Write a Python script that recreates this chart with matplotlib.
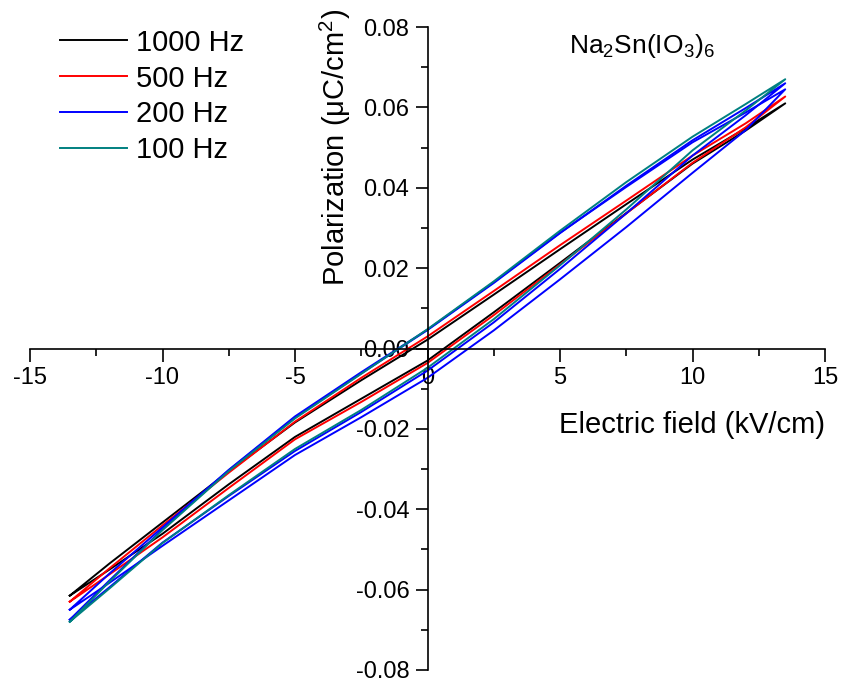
import matplotlib
matplotlib.use("Agg")
import matplotlib.pyplot as plt
from matplotlib.ticker import MultipleLocator, FormatStrFormatter

plt.rcParams["font.family"] = ["Liberation Sans", "DejaVu Sans"]
plt.rcParams["mathtext.fontset"] = "custom"
plt.rcParams["mathtext.rm"] = "Liberation Sans"
plt.rcParams["mathtext.it"] = "Liberation Sans:italic"
plt.rcParams["axes.unicode_minus"] = False

field = [-13.5, -12, -10, -7.5, -5, -2.5, 0, 2.5, 5, 7.5, 10, 12, 13.5]

# polarization (uC/cm^2): upper (descending) and lower (ascending) branch
p_1000_up = [-0.0615, -0.0535, -0.0433, -0.0306, -0.0184, -0.0079, 0.0022,
             0.0134, 0.0247, 0.0359, 0.0470, 0.0548, 0.0610]
p_1000_lo = [-0.0615, -0.0550, -0.0461, -0.0338, -0.0220, -0.0125, -0.0030,
             0.0090, 0.0213, 0.0337, 0.0460, 0.0542, 0.0610]
p_500_up = [-0.0630, -0.0547, -0.0440, -0.0309, -0.0182, -0.0073, 0.0030,
            0.0143, 0.0257, 0.0368, 0.0480, 0.0560, 0.0627]
p_500_lo = [-0.0630, -0.0562, -0.0470, -0.0347, -0.0226, -0.0133, -0.0036,
            0.0083, 0.0209, 0.0336, 0.0462, 0.0550, 0.0627]
p_200_up = [-0.0650, -0.0560, -0.0445, -0.0302, -0.0169, -0.0059, 0.0047,
            0.0165, 0.0288, 0.0402, 0.0513, 0.0587, 0.0645]
p_200_lo = [-0.0650, -0.0583, -0.0491, -0.0378, -0.0265, -0.0171, -0.0073,
            0.0045, 0.0172, 0.0302, 0.0437, 0.0543, 0.0645]
# second 200 Hz run, sits close to the 100 Hz loop
p_200b_up = [-0.0675, -0.0577, -0.0450, -0.0303, -0.0172, -0.0062, 0.0046,
             0.0163, 0.0287, 0.0405, 0.0518, 0.0598, 0.0660]
p_200b_lo = [-0.0675, -0.0594, -0.0483, -0.0367, -0.0255, -0.0158, -0.0055,
             0.0065, 0.0198, 0.0336, 0.0480, 0.0580, 0.0660]
p_100_up = [-0.0680, -0.0580, -0.0452, -0.0305, -0.0174, -0.0063, 0.0048,
            0.0167, 0.0293, 0.0414, 0.0527, 0.0608, 0.0670]
p_100_lo = [-0.0680, -0.0597, -0.0484, -0.0365, -0.0250, -0.0153, -0.0048,
            0.0073, 0.0207, 0.0346, 0.0493, 0.0592, 0.0670]

loops = [
    ("1000 Hz", "black", p_1000_up, p_1000_lo),
    ("500 Hz", "#ff0000", p_500_up, p_500_lo),
    ("200 Hz", "#0000ff", p_200_up, p_200_lo),
    (None, "#0000ff", p_200b_up, p_200b_lo),
    ("100 Hz", "#008080", p_100_up, p_100_lo),
]

fig = plt.figure(figsize=(8.42, 6.83), dpi=100)
ax = fig.add_axes([30 / 842, 13 / 683, 795 / 842, 643 / 683])

for label, color, up, lo in loops:
    # lower branch out to +Emax, then back along the upper one
    xs = list(field) + list(field[::-1])
    ys = list(lo) + list(up[::-1])
    ax.plot(xs, ys, color=color, lw=1.4, label=label)

ax.set_xlim(-15, 15)
ax.set_ylim(-0.08, 0.08)

ax.spines["left"].set_position(("data", 0))
ax.spines["bottom"].set_position(("data", 0))
ax.spines["top"].set_visible(False)
ax.spines["right"].set_visible(False)
for s in ("left", "bottom"):
    ax.spines[s].set_linewidth(1.2)

ax.xaxis.set_major_locator(MultipleLocator(5))
ax.xaxis.set_minor_locator(MultipleLocator(2.5))
ax.yaxis.set_major_locator(MultipleLocator(0.02))
ax.yaxis.set_minor_locator(MultipleLocator(0.01))
ax.yaxis.set_major_formatter(FormatStrFormatter("%.2f"))

ax.tick_params(which="major", direction="out", length=9, width=1.2,
               labelsize=17, pad=4)
ax.tick_params(which="minor", direction="out", length=5, width=1.2)

ax.text(1.0, 0.381, "Electric field (kV/cm)", transform=ax.transAxes,
        ha="right", va="center", fontsize=21)
ax.text(0.384, 0.812, "Polarization (μC/cm$^2$)", transform=ax.transAxes,
        ha="center", va="center", rotation=90, fontsize=21)
ax.text(0.769, 0.97, "Na$_2$Sn(IO$_3$)$_6$", transform=ax.transAxes,
        ha="center", va="center", fontsize=19)

ax.legend(loc="upper left", bbox_to_anchor=(48 / 842, 1 - 17 / 683),
          bbox_transform=fig.transFigure, frameon=False, fontsize=21,
          handlelength=2.3, handletextpad=0.3, labelspacing=0.27,
          borderaxespad=0)

fig.savefig("out.png", dpi=100)
